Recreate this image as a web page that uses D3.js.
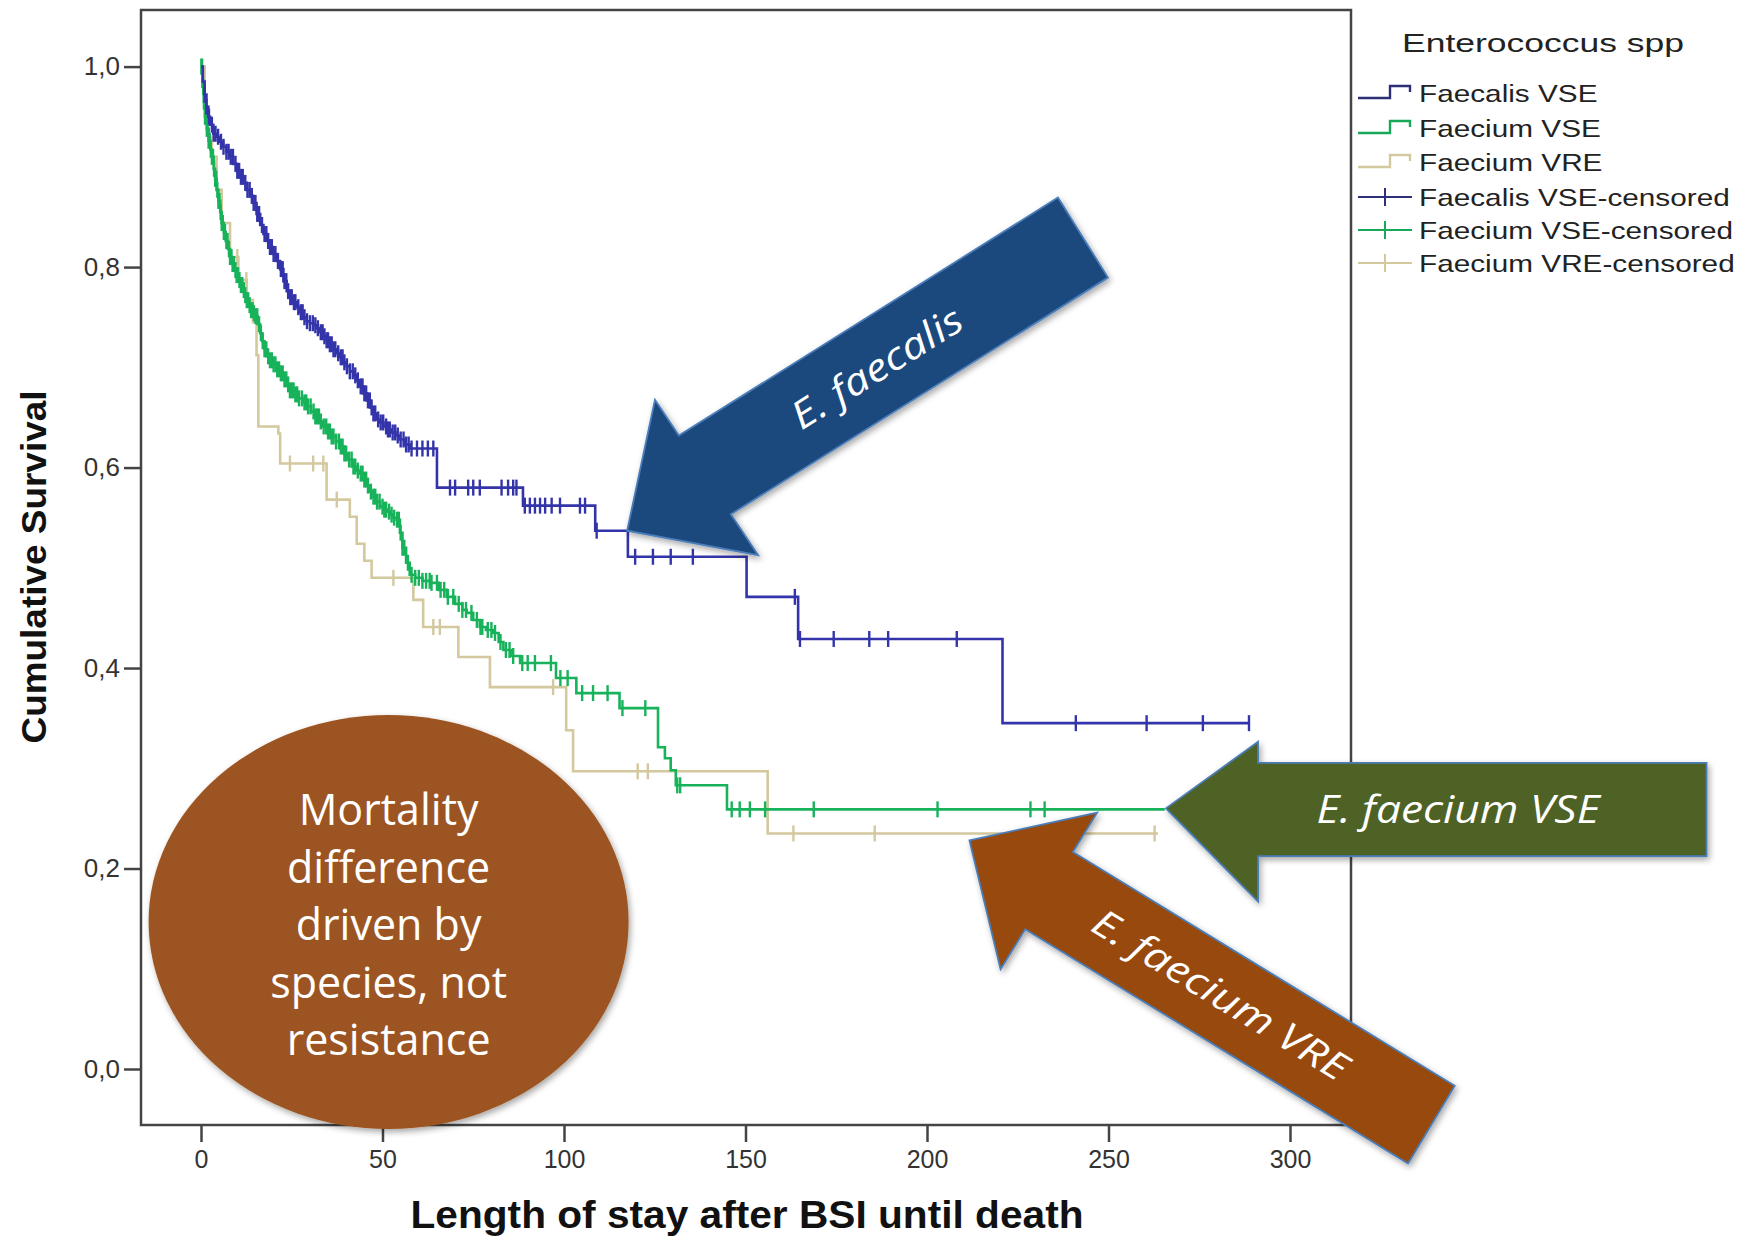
<!DOCTYPE html>
<html>
<head>
<meta charset="utf-8">
<script src="https://cdn.jsdelivr.net/npm/d3@7"></script>
<style>
  body { margin: 0; background: #fff; }
</style>
</head>
<body>
<div id="chart"></div>
<script>
// ---- data ----
var xTicks = [0, 50, 100, 150, 200, 250, 300];
var yTicks = [0, 0.2, 0.4, 0.6, 0.8, 1.0];
var yTickLabels = ["0,0", "0,2", "0,4", "0,6", "0,8", "1,0"];

var seriesNames = ["Faecalis VSE", "Faecium VSE", "Faecium VRE"];
var legendLabels = ["Faecalis VSE", "Faecium VSE", "Faecium VRE",
  "Faecalis VSE-censored", "Faecium VSE-censored", "Faecium VRE-censored"];

// [time, cumulative survival] at each step
var faecalisSteps = [[0,1.0],[0.5,0.985],[1,0.972],[1.5,0.96],[2,0.95],[2.5,0.942],[3.4,0.933],[4.5,0.93],[5.3,0.925],
  [6.1,0.92],[7,0.915],[8,0.91],[8.9,0.903],[9.8,0.896],[10.8,0.89],[11.7,0.884],[12.6,0.877],[13.5,0.871],[14.4,0.864],
  [15.3,0.853],[16.3,0.842],[17.2,0.833],[18.1,0.826],[19,0.82],[19.9,0.813],[20.9,0.806],[21.8,0.798],[22.7,0.786],
  [23.6,0.776],[24.5,0.77],[25.5,0.765],[26.4,0.76],[27.3,0.755],[28.2,0.75],[29.1,0.746],[30,0.744],[31,0.742],
  [31.9,0.739],[32.8,0.735],[33.7,0.731],[34.6,0.727],[35.5,0.723],[36.5,0.718],[37.4,0.714],[38.3,0.71],[39.2,0.705],
  [40.1,0.701],[41,0.696],[42,0.692],[42.9,0.687],[43.8,0.681],[44.7,0.674],[45.7,0.667],[46.6,0.66],[47.5,0.654],
  [48.4,0.648],[49.3,0.645],[50.3,0.641],[51.2,0.638],[52.4,0.635],[53.6,0.632],[54.8,0.628],[56,0.623],[57.6,0.619],
  [65,0.58],[88.7,0.562],[108.6,0.537],[117.6,0.511],[150.3,0.471],[164.5,0.429],[220.8,0.345]];
var faecalisEnd = 289;
var faecalisCensored = [1,1.5,2.2,3,3.5,4,4.7,5.5,6.2,7,7.6,8.2,8.8,9.5,10,10.5,11,11.5,12.2,12.8,13.4,14,14.5,15,15.5,16,
  16.8,17.5,18,18.5,19,19.5,20,20.5,21.2,22,22.5,23,23.5,24,24.6,25,25.6,26,26.8,27.5,28,28.5,29.2,30,30.8,31.5,32.2,33,
  33.5,34,34.6,35,35.5,36,36.5,37,37.8,38.5,39,39.5,40.2,41,41.8,42.5,43.2,44,44.5,45,45.5,46,46.5,47,47.5,48,48.8,49.5,
  50.2,51,51.5,52,52.8,53.5,54.2,55,55.8,56.5,57.2,58,59.5,61,62.5,64,68.6,70,73.6,75,76.8,
  82.8,84.6,86,86.9,89.2,90.6,92,93.4,94.8,96.6,98.9,104.4,105.8,109,119.6,124.5,129.4,135.5,163.6,165,174.3,184.1,
  189.3,208.2,241,260.5,276,288.7];

var faeciumVseSteps = [[0,1.0],[0.4,0.98],[0.8,0.965],[1.1,0.95],[1.6,0.938],[2.1,0.926],[2.6,0.917],[3,0.91],[3.5,0.898],
  [3.9,0.888],[4.3,0.877],[4.8,0.866],[5.3,0.855],[5.7,0.844],[6.3,0.835],[6.8,0.826],[7.4,0.818],[8,0.81],[8.6,0.803],
  [9.2,0.797],[9.7,0.792],[10.3,0.787],[10.9,0.782],[11.5,0.777],[12,0.772],[12.6,0.767],[13.2,0.762],[13.7,0.757],
  [14.3,0.754],[14.9,0.751],[15.6,0.743],[16.3,0.734],[16.9,0.726],[17.5,0.718],[18.1,0.711],[18.9,0.707],[19.8,0.703],
  [20.8,0.698],[21.8,0.694],[22.7,0.688],[23.6,0.683],[24.5,0.677],[25.6,0.673],[26.8,0.669],[28,0.665],[29.1,0.661],
  [30.3,0.656],[31.4,0.651],[32.6,0.646],[33.7,0.641],[34.9,0.636],[36,0.631],[37.2,0.626],[38.3,0.621],[39.4,0.614],
  [40.5,0.608],[41.6,0.601],[42.7,0.597],[43.8,0.594],[44.7,0.588],[45.6,0.582],[46.5,0.576],[47.5,0.571],[48.4,0.566],
  [49.3,0.561],[50.2,0.558],[51.2,0.556],[52.1,0.553],[53,0.55],[53.9,0.548],[54.8,0.535],[55.5,0.52],[56.5,0.505],
  [57.5,0.493],[59,0.49],[61,0.487],[63.1,0.485],[65.5,0.478],[67.7,0.471],[70,0.464],[72,0.458],[73.2,0.455],[75,0.448],
  [76.8,0.441],[78.5,0.438],[80.5,0.435],[82,0.426],[83.3,0.418],[85.5,0.412],[87.9,0.405],[97.8,0.39],[103.4,0.375],
  [115.3,0.36],[125.9,0.321],[127.8,0.31],[129.4,0.298],[130.8,0.283],[144.9,0.259]];
var faeciumVseEnd = 265.5;
var faeciumVseCensored = [0.1,0.3,0.6,0.8,1.1,1.3,1.6,1.8,2.1,2.4,2.7,3,3.3,3.6,3.9,4.2,4.5,4.8,5.1,5.4,5.7,6,6.3,6.6,7,7.3,
  7.7,8,8.4,8.7,9.1,9.5,9.8,10.2,10.6,11,11.4,11.8,12.2,12.6,13,13.4,13.8,14.2,14.6,15,15.5,16,16.5,17,17.5,18,18.5,19,
  19.5,20,20.5,21,21.5,22,22.5,23,23.5,24,24.5,25,25.5,26,26.5,27,27.8,28.5,29,29.5,30.2,31,31.5,32,32.5,33,33.8,34.5,
  35,35.5,36,36.5,37.2,38,38.5,39,39.5,40,40.8,41.5,42,42.5,43.2,44,44.5,45,45.5,46,46.8,47.5,48,48.5,49.2,50,50.5,51,
  51.8,52.5,53.2,54,54.5,55,55.5,56,57,58,59,60,61,62,63,63.5,65,66,67,68,69.5,71,72,73,74.5,76,77,77.5,79,80,81,82.5,84,
  85,86,88.5,90,92,96.4,99,101,105,108,112,116.1,122.4,131.2,132,146.2,148.4,151.2,155.4,168.8,202.9,228.5,232.4];

var faeciumVreSteps = [[0,1.0],[1,0.96],[2,0.93],[3,0.91],[4.3,0.877],[5.7,0.844],[8,0.81],[10.3,0.787],[12.6,0.767],
  [14.3,0.745],[15.3,0.712],[15.8,0.641],[21.3,0.634],[21.8,0.604],[34.6,0.568],[41,0.551],[42.9,0.524],[45,0.507],
  [47,0.49],[58.5,0.468],[61.2,0.441],[70.9,0.411],[79.6,0.381],[100.6,0.338],[102.5,0.297],[156.1,0.235]];
var faeciumVreEnd = 263.6;
var faeciumVreCensored = [10,12.5,24.5,30.9,33.7,37.4,53,64,65.8,97,120.3,123.1,163.2,185.6,262.7];

var noteLines = ["Mortality", "difference", "driven by", "species, not", "resistance"];
var arrowLabels = ["E. faecalis", "E. faecium VSE", "E. faecium VRE"];
// data point each arrow is aimed at [time, survival]
var arrowTargets = [[117.4, 0.537], [265.8, 0.26], [211.7, 0.228]];

// ---- layout ----
var W = 1741, H = 1243;
var frame = {left: 141, top: 10, right: 1351, bottom: 1125};
var colors = ["#3434aa", "#17b25a", "#d3c89e"];
var legendColors = ["#2f2f78", "#17a85a", "#d3c89e"];

var svg = d3.select("#chart")
  .append("svg")
    .attr("width", W)
    .attr("height", H)
    .style("font-family", "'Liberation Sans', Arial, sans-serif");

var defs = svg.append("defs");
var shadow = defs.append("filter").attr("id", "shadow")
  .attr("x", "-20%").attr("y", "-20%").attr("width", "140%").attr("height", "140%");
shadow.append("feDropShadow")
  .attr("dx", 2).attr("dy", 3).attr("stdDeviation", 3)
  .attr("flood-color", "#000").attr("flood-opacity", 0.35);

var x = d3.scaleLinear().domain([0, 300]).range([201, 1290]);
var y = d3.scaleLinear().domain([0, 1]).range([1069, 66.6]);

// frame
svg.append("rect")
  .attr("x", frame.left).attr("y", frame.top)
  .attr("width", frame.right - frame.left)
  .attr("height", frame.bottom - frame.top)
  .attr("fill", "none").attr("stroke", "#444").attr("stroke-width", 2.5);

// Y axis (ticks outside, labels with comma decimals)
var yAxis = svg.append("g")
  .attr("transform", "translate(" + frame.left + ",0)")
  .call(d3.axisLeft(y).tickValues(yTicks).tickSize(17).tickPadding(4)
    .tickFormat(function(d, i) { return yTickLabels[i]; }));
yAxis.select(".domain").remove();
yAxis.selectAll("line").attr("stroke", "#444").attr("stroke-width", 2.5);
yAxis.selectAll("text").attr("font-size", 26).attr("fill", "#333")
  .attr("font-family", "'Liberation Sans', Arial, sans-serif");

// X axis
var xAxis = svg.append("g")
  .attr("transform", "translate(0," + frame.bottom + ")")
  .call(d3.axisBottom(x).tickValues(xTicks).tickSize(17).tickPadding(8));
xAxis.select(".domain").remove();
xAxis.selectAll("line").attr("stroke", "#444").attr("stroke-width", 2.5);
xAxis.selectAll("text").attr("font-size", 25).attr("fill", "#333")
  .attr("font-family", "'Liberation Sans', Arial, sans-serif");

// axis titles
svg.append("text")
  .attr("transform", "translate(46,567) rotate(-90)")
  .attr("text-anchor", "middle")
  .attr("font-size", 35).attr("font-weight", "bold").attr("fill", "#111")
  .attr("textLength", 353).attr("lengthAdjust", "spacingAndGlyphs")
  .text("Cumulative Survival");

svg.append("text")
  .attr("x", 747).attr("y", 1228)
  .attr("text-anchor", "middle")
  .attr("font-size", 38).attr("font-weight", "bold").attr("fill", "#111")
  .attr("textLength", 673).attr("lengthAdjust", "spacingAndGlyphs")
  .text("Length of stay after BSI until death");

// ---- survival curves ----
function survAt(steps, t) {
  var v = steps[0][1];
  steps.forEach(function(s) { if (s[0] <= t) v = s[1]; });
  return v;
}

var curves = [
  {steps: faecalisSteps, end: faecalisEnd, censored: faecalisCensored},
  {steps: faeciumVseSteps, end: faeciumVseEnd, censored: faeciumVseCensored},
  {steps: faeciumVreSteps, end: faeciumVreEnd, censored: faeciumVreCensored}
];

var stepLine = d3.line()
  .x(function(d) { return x(d[0]); })
  .y(function(d) { return y(d[1]); })
  .curve(d3.curveStepAfter);

// draw VRE first so it sits underneath
[2, 1, 0].forEach(function(i) {
  var c = curves[i];
  var pts = c.steps.concat([[c.end, c.steps[c.steps.length - 1][1]]]);
  svg.append("path")
    .datum(pts)
    .attr("fill", "none")
    .attr("stroke", colors[i])
    .attr("stroke-width", 2.6)
    .attr("d", stepLine);
  svg.append("g").selectAll("line")
    .data(c.censored)
    .enter().append("line")
      .attr("x1", function(d) { return x(d); })
      .attr("x2", function(d) { return x(d); })
      .attr("y1", function(d) { return y(survAt(c.steps, d)) - 8; })
      .attr("y2", function(d) { return y(survAt(c.steps, d)) + 8; })
      .attr("stroke", colors[i])
      .attr("stroke-width", 2.4);
});

// ---- legend ----
svg.append("text")
  .attr("x", 1402).attr("y", 52)
  .attr("font-size", 26).attr("fill", "#222")
  .attr("textLength", 282).attr("lengthAdjust", "spacingAndGlyphs")
  .text("Enterococcus spp");

var legendRowY = [93, 128, 162, 197, 230, 263];
legendLabels.forEach(function(lab, i) {
  var ry = legendRowY[i];
  var col = legendColors[i % 3];
  if (i < 3) {
    svg.append("path")
      .attr("d", "M1358," + (ry + 5) + "H1390V" + (ry - 7) + "H1410V" + (ry - 1))
      .attr("fill", "none").attr("stroke", col).attr("stroke-width", 2.4);
  } else {
    svg.append("path")
      .attr("d", "M1358," + ry + "H1412M1385," + (ry - 9) + "V" + (ry + 9))
      .attr("fill", "none").attr("stroke", col).attr("stroke-width", 2);
  }
  svg.append("text")
    .attr("transform", "translate(1419," + (ry + 9) + ") scale(1.24,1)")
    .attr("font-size", 24).attr("fill", "#222")
    .text(lab);
});

// ---- annotations ----
var note = {cx: 388.6, cy: 922, rx: 240, ry: 207, firstBaseline: 825, lineStep: 57.5};
svg.append("ellipse")
  .attr("cx", note.cx).attr("cy", note.cy)
  .attr("rx", note.rx).attr("ry", note.ry)
  .attr("fill", "#9c5520")
  .attr("filter", "url(#shadow)");
svg.append("g").selectAll("text")
  .data(noteLines)
  .enter().append("text")
    .attr("x", note.cx)
    .attr("y", function(d, i) { return note.firstBaseline + i * note.lineStep; })
    .attr("text-anchor", "middle")
    .attr("font-family", "'Open Sans', Lato, sans-serif")
    .attr("font-size", 43).attr("fill", "#fff")
    .text(function(d) { return d; });

// arrow outlines are offsets from the tip, label centre and angle
var arrowShapes = [
  {fill: "#1f497d", angle: -32.1, label: [249.7, -162.7], size: 38, len: 195,
   pts: [[0,0],[27.8,-131],[51.7,-95.1],[430.8,-333.1],[480.8,-253.1],[103.7,-16.5],[131,24.5]]},
  {fill: "#4f6228", angle: 0, label: [292.2, 1.7], size: 38, len: 283,
   pts: [[0,0],[92.2,-66.6],[92.2,-45.5],[540.7,-45.5],[540.7,47.7],[92.2,47.7],[92.2,93.3]]},
  {fill: "#984807", angle: 31.5, label: [250.7, 154.5], size: 38, len: 292,
   pts: [[0,0],[127.7,-27.8],[103.4,11.5],[485.2,245.4],[438.6,323.1],[55.8,88.7],[31.1,128.8]]}
];

arrowShapes.forEach(function(a, i) {
  var tx = x(arrowTargets[i][0]), ty = y(arrowTargets[i][1]);
  svg.append("polygon")
    .attr("points", a.pts.map(function(p) { return (tx + p[0]) + "," + (ty + p[1]); }).join(" "))
    .attr("fill", a.fill)
    .attr("stroke", "#4a7ebb").attr("stroke-width", 1.8)
    .attr("filter", "url(#shadow)");
  svg.append("text")
    .attr("transform", "translate(" + (tx + a.label[0]) + "," + (ty + a.label[1]) + ") rotate(" + a.angle + ")")
    .attr("y", 13)
    .attr("text-anchor", "middle")
    .attr("font-family", "'Open Sans', Lato, sans-serif")
    .attr("font-style", "italic")
    .attr("font-size", a.size).attr("fill", "#fff")
    .attr("textLength", a.len).attr("lengthAdjust", "spacingAndGlyphs")
    .text(arrowLabels[i]);
});
</script>
</body>
</html>
